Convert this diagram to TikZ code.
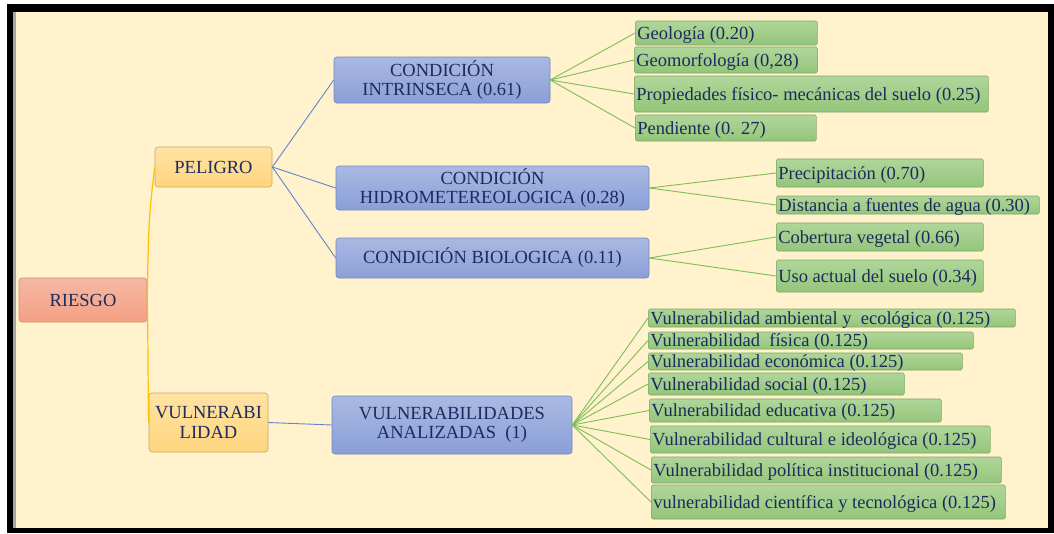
\documentclass[tikz,border=0pt]{standalone}
\usepackage{fontspec}
\setmainfont{Liberation Serif}
\newfontfamily\serifx{Liberation Serif}
\definecolor{txt}{HTML}{1C2B5E}
\definecolor{cream}{HTML}{FFF2CC}
\definecolor{blueA}{HTML}{AAB9E2}
\definecolor{blueB}{HTML}{8A9FD8}
\definecolor{blueE}{HTML}{7088C2}
\definecolor{greenA}{HTML}{B0D69A}
\definecolor{greenB}{HTML}{94C57A}
\definecolor{greenE}{HTML}{7FA865}
\definecolor{yelA}{HTML}{FFE3A3}
\definecolor{yelB}{HTML}{FFD57E}
\definecolor{yelE}{HTML}{C9A862}
\definecolor{salA}{HTML}{F5B9A3}
\definecolor{salB}{HTML}{F4A083}
\definecolor{salE}{HTML}{C98F78}
\definecolor{lineBlue}{HTML}{6085CC}
\definecolor{lineGreen}{HTML}{7DBE58}
\definecolor{lineYel}{HTML}{FFC000}
\newcommand\lf[2]{\makebox[#1pt][l]{\raisebox{-0.33em}[0pt][0pt]{#2}}}
\tikzset{
  basebox/.style={rounded corners=3pt, line width=0.6pt, text=txt, inner xsep=2pt, inner ysep=0pt,
    font=\serifx\fontsize{18.5}{19.5}\selectfont, align=center},
  bluebox/.style={basebox, draw=blueE, top color=blueA, bottom color=blueB},
  yelbox/.style={basebox, draw=yelE, top color=yelA, bottom color=yelB},
  salbox/.style={basebox, draw=salE, top color=salA, bottom color=salB},
  leaf/.style={basebox, rounded corners=1.5pt, draw=greenE, top color=greenA, bottom color=greenB, anchor=west},
  bline/.style={draw=lineBlue, line width=0.9pt},
  gline/.style={draw=lineGreen, line width=0.9pt},
  yline/.style={draw=lineYel, line width=1.2pt},
}
\begin{document}
\begin{tikzpicture}[x=1pt,y=-1pt]
\useasboundingbox (0,0) rectangle (1054,533);
\fill[white] (0,0) rectangle (1054,533);
\fill[black] (7,4) rectangle (1054,533);
\fill[gray!70] (13,12) rectangle (16,528);
\fill[cream] (16,12) rectangle (1048,528);

% main nodes
\node[salbox, minimum width=128, minimum height=44] (riesgo) at (83,300) {RIESGO};
\node[yelbox, minimum width=117, minimum height=40] (peligro) at (213.5,167) {PELIGRO};
\node[yelbox, minimum width=119, minimum height=59] (vulner) at (208.5,422.5) {VULNERABI\\LIDAD};
\node[bluebox, minimum width=216, minimum height=46] (intr) at (442,80) {CONDICIÓN\\INTRINSECA (0.61)};
\node[bluebox, minimum width=313, minimum height=44] (hidro) at (492.5,188) {CONDICIÓN\\HIDROMETEREOLOGICA (0.28)};
\node[bluebox, minimum width=313, minimum height=40] (bio) at (492.5,258) {CONDICIÓN BIOLOGICA (0.11)};
\node[bluebox, minimum width=240, minimum height=58] (va) at (452,425) {VULNERABILIDADES\\ANALIZADAS\ \ (1)};

% leaves
\node[leaf, minimum height=24] (g1) at (635,33) {\lf{178}{Geología (0.20)}};
\node[leaf, minimum height=26] (g2) at (634,60) {\lf{179}{Geomorfología (0,28)}};
\node[leaf, minimum height=36] (g3) at (634,94) {\lf{350}{Propiedades físico- mecánicas del suelo (0.25)}};
\node[leaf, minimum height=26] (g4) at (635,128) {\lf{177}{Pendiente (0. 27)}};
\node[leaf, minimum height=28] (h1) at (776,173) {\lf{203}{Precipitación (0.70)}};
\node[leaf, minimum height=18] (h2) at (776,205) {\lf{259}{Distancia a fuentes de agua (0.30)}};
\node[leaf, minimum height=28] (b1) at (776,237) {\lf{203}{Cobertura vegetal (0.66)}};
\node[leaf, minimum height=32] (b2) at (776,276) {\lf{203}{Uso actual del suelo (0.34)}};
\node[leaf, minimum height=18] (v1) at (648,318) {\lf{363}{Vulnerabilidad ambiental y\ \ ecológica (0.125)}};
\node[leaf, minimum height=17] (v2) at (648,340.5) {\lf{321}{Vulnerabilidad\ \ física (0.125)}};
\node[leaf, minimum height=17] (v3) at (648,361.5) {\lf{310}{Vulnerabilidad económica (0.125)}};
\node[leaf, minimum height=22] (v4) at (648,384) {\lf{252}{Vulnerabilidad social (0.125)}};
\node[leaf, minimum height=23] (v5) at (649,410.5) {\lf{288}{Vulnerabilidad educativa (0.125)}};
\node[leaf, minimum height=27] (v6) at (650,439.5) {\lf{336}{Vulnerabilidad cultural e ideológica (0.125)}};
\node[leaf, minimum height=26] (v7) at (651,470) {\lf{346}{Vulnerabilidad política institucional (0.125)}};
\node[leaf, minimum height=34] (v8) at (651,502) {\lf{350}{vulnerabilidad científica y tecnológica (0.125)}};

% connectors
\draw[yline] (riesgo.east) .. controls +(1,-70) and +(-6,50) .. (peligro.west);
\draw[yline] (riesgo.east) .. controls +(1,60) and +(-1,-60) .. (vulner.west);
\foreach \t in {intr,hidro,bio} \draw[bline] (peligro.east) -- (\t.west);
\draw[bline] (vulner.east) -- (va.west);
\foreach \t in {g1,g2,g3,g4} \draw[gline] (intr.east) -- (\t.west);
\foreach \t in {h1,h2} \draw[gline] (hidro.east) -- (\t.west);
\foreach \t in {b1,b2} \draw[gline] (bio.east) -- (\t.west);
\foreach \t in {v1,v2,v3,v4,v5,v6,v7,v8} \draw[gline] (va.east) -- (\t.west);
\end{tikzpicture}
\end{document}
